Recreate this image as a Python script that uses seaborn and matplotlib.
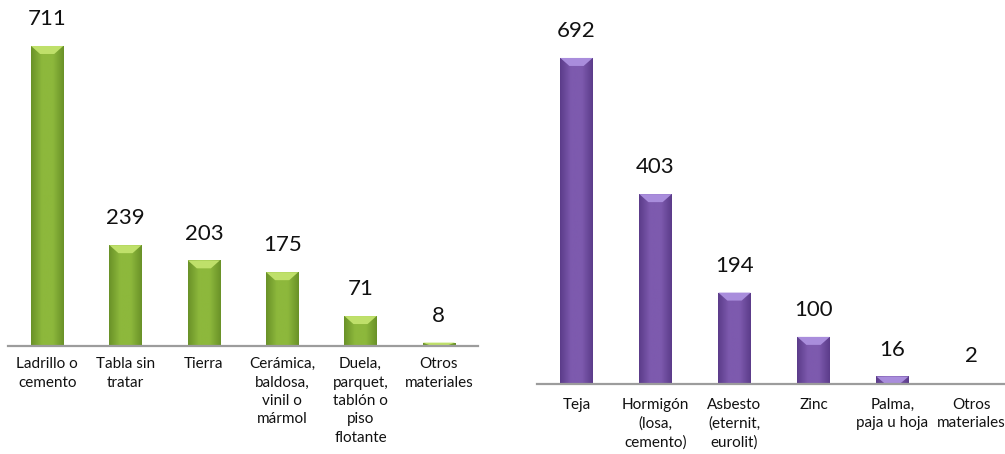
import numpy as np
import pandas as pd
import matplotlib
matplotlib.use("Agg")
import matplotlib.pyplot as plt
from matplotlib.colors import LinearSegmentedColormap
from matplotlib.patches import Polygon
import seaborn as sns

# datos: material de pisos y techos
pisos = ["Ladrillo o\ncemento", "Tabla sin\ntratar", "Tierra",
         "Cerámica,\nbaldosa,\nvinil o\nmármol",
         "Duela,\nparquet,\ntablón o\npiso\nflotante",
         "Otros\nmateriales"]
pisos_n = [711, 239, 203, 175, 71, 8]

techos = ["Teja", "Hormigón\n(losa,\ncemento)", "Asbesto\n(eternit,\neurolit)",
          "Zinc", "Palma,\npaja u hoja", "Otros\nmateriales"]
techos_n = [692, 403, 194, 100, 16, 2]

sns.set_theme(style="white")
plt.rcParams['font.family'] = ['Lato', 'DejaVu Sans']

W, H = 1005, 454
fig = plt.figure(figsize=(W / 100, H / 100), dpi=100)


def panel(rect, cats, vals, ymax, base, edge, light, pad):
    ax = fig.add_axes(rect)
    df = pd.DataFrame({"cat": cats, "n": vals})
    sns.barplot(data=df, x="cat", y="n", color=base, width=0.41,
                saturation=1, ax=ax)
    ax.set_xlim(-0.5, len(cats) - 0.5)
    ax.set_ylim(0, ymax)

    # gradiente horizontal y bisel superior, como en el original
    cmap = LinearSegmentedColormap.from_list("g", [edge, base, base, edge])
    grad = np.linspace(0, 1, 64).reshape(1, -1)
    ax_h_px = rect[3] * H
    px = ymax / ax_h_px
    for p in list(ax.patches):
        x0, y0, w, h = p.get_x(), p.get_y(), p.get_width(), p.get_height()
        im = ax.imshow(grad, extent=[x0, x0 + w, y0, y0 + h], aspect="auto",
                       cmap=cmap, zorder=p.get_zorder() + 0.1)
        im.set_clip_path(p)
        d = min(8 * px, h)
        top = y0 + h
        bev = Polygon([(x0, top), (x0 + w, top), (x0 + w * 0.72, top - d),
                       (x0 + w * 0.28, top - d)], closed=True,
                      facecolor=light, edgecolor="none",
                      zorder=p.get_zorder() + 0.2)
        ax.add_patch(bev)
    ax.set_xlim(-0.5, len(cats) - 0.5)
    ax.set_ylim(0, ymax)

    ax.bar_label(ax.containers[0], labels=[str(v) for v in vals],
                 padding=12, fontsize=16, color="#111111")
    for s in ["top", "right", "left"]:
        ax.spines[s].set_visible(False)
    ax.spines["bottom"].set_color("#9c9c9c")
    ax.spines["bottom"].set_linewidth(1.6)
    ax.set_yticks([])
    ax.set_xlabel("")
    ax.set_ylabel("")
    ax.tick_params(axis="x", length=0, pad=pad, labelsize=11,
                   labelcolor="#111111")
    for t in ax.get_xticklabels():
        t.set_linespacing(1.4)
    return ax


# pisos (izquierda)
panel([8 / W, (H - 346) / H, 470 / W, 346 / H], pisos, pisos_n, 820,
      "#8db83c", "#6a9228", "#bfe06a", 8)
# techos (derecha)
panel([537 / W, (H - 384) / H, 474 / W, 384 / H], techos, techos_n, 815,
      "#7d5aae", "#5c3c8a", "#a98ddc", 10)

fig.savefig("out.png", dpi=100)
